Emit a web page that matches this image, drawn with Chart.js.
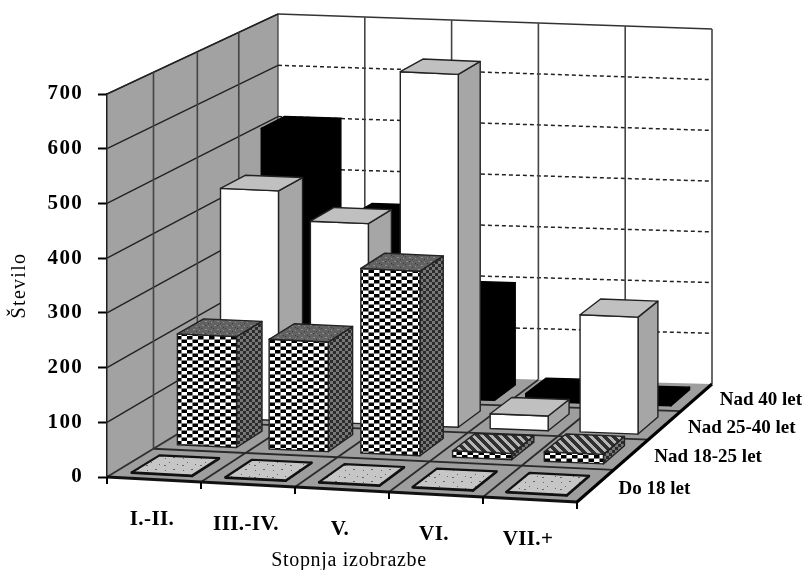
<!DOCTYPE html>
<html>
<head>
<meta charset="utf-8">
<script src="https://cdn.jsdelivr.net/npm/chart.js@4"></script>
<style>
  html, body { margin: 0; padding: 0; background: #fff; }
  canvas { display: block; }
</style>
</head>
<body>
<canvas id="graf" width="802" height="570"></canvas>
<script>
const stopnje = ["I.-II.", "III.-IV.", "V.", "VI.", "VII.+"];
const skupine = ["Do 18 let", "Nad 18-25 let", "Nad 25-40 let", "Nad 40 let"];

const do18 = [1, 1, 1, 1, 1];
const nad18 = [207, 205, 346, 12, 18];
const nad25 = [436, 381, 673, 28, 224];
const nad40 = [510, 346, 200, 15, 5];

const yTicks = [0, 100, 200, 300, 400, 500, 600, 700];

// corners of the 3D box on the page, [x, y] for u (left-right), d (front-back), h (up)
const BOX = {
  b00: [107, 477], b10: [577, 502], b01: [278, 373], b11: [712, 384],
  t00: [107, 94], t10: [577, 123], t01: [278, 14], t11: [712, 29],
};
const GLOBINA = 1.12; // perspective of the depth axis
const SIRINA = 0.645; // bar width in its cell
const DOLZINA = 0.6; // bar depth in its cell

const lerp = (a, b, t) => a + (b - a) * t;

function proj(u, d, h) {
  const dd = (d * GLOBINA) / (1 + d * (GLOBINA - 1));
  const at = (i) => {
    const bot = lerp(lerp(BOX.b00[i], BOX.b10[i], u), lerp(BOX.b01[i], BOX.b11[i], u), dd);
    const top = lerp(lerp(BOX.t00[i], BOX.t10[i], u), lerp(BOX.t01[i], BOX.t11[i], u), dd);
    return lerp(bot, top, h);
  };
  return [at(0), at(1)];
}

function tile(w, h, fn) {
  const c = document.createElement("canvas");
  c.width = w;
  c.height = h;
  fn(c.getContext("2d"));
  return document.getElementById("graf").getContext("2d").createPattern(c, "repeat");
}

function dots(g, color, list) {
  g.fillStyle = color;
  list.forEach((p) => g.fillRect(p[0], p[1], p[2] || 1, p[3] || 1));
}

const sah = tile(11, 7, (g) => {
  g.fillStyle = "#fff";
  g.fillRect(0, 0, 11, 7);
  g.fillStyle = "#000";
  g.fillRect(0, 0, 5.5, 3.5);
  g.fillRect(5.5, 3.5, 5.5, 3.5);
});
const sahStran = tile(6, 6, (g) => {
  g.fillStyle = "#777";
  g.fillRect(0, 0, 6, 6);
  g.fillStyle = "#2c2c2c";
  g.fillRect(0, 0, 3, 3);
  g.fillRect(3, 3, 3, 3);
});
const sahVrh = tile(12, 8, (g) => {
  g.fillStyle = "#626262";
  g.fillRect(0, 0, 12, 8);
  dots(g, "#8e8e8e", [[1, 1, 2, 1], [7, 2], [10, 5, 2, 1], [4, 6]]);
  dots(g, "#3c3c3c", [[4, 3], [9, 0], [1, 5], [7, 7]]);
});
const sahPloska = tile(9, 9, (g) => {
  g.fillStyle = "#303030";
  g.fillRect(0, 0, 9, 9);
  g.fillStyle = "#b5b5b5";
  for (let y = 0; y < 9; y++) {
    g.fillRect(y, y, 4, 1);
    g.fillRect(y - 9, y, 4, 1);
  }
});
const pike = tile(18, 12, (g) => {
  g.fillStyle = "#c6c6c6";
  g.fillRect(0, 0, 18, 12);
  dots(g, "#666", [[3, 2], [11, 1, 2, 1], [7, 6], [15, 8], [2, 9, 2, 1]]);
});

const videz = [
  { spredaj: "#c6c6c6", vrh: pike, stran: "#888", rob: "#111", lw: 2.2 },
  { spredaj: sah, vrh: sahVrh, stran: sahStran, plosko: sahPloska, rob: "#222", lw: 1.4 },
  { spredaj: "#fff", vrh: "#c0c0c0", stran: "#a6a6a6", rob: "#222", lw: 1.4 },
  { spredaj: "#000", vrh: "#000", stran: "#000", rob: "#000", lw: 1.4 },
];

function poly(ctx, pts, fill, stroke, lw) {
  ctx.beginPath();
  pts.forEach((p, i) => (i ? ctx.lineTo(p[0], p[1]) : ctx.moveTo(p[0], p[1])));
  ctx.closePath();
  if (fill) {
    ctx.fillStyle = fill;
    ctx.fill();
  }
  if (stroke) {
    ctx.strokeStyle = stroke;
    ctx.lineWidth = lw || 1;
    ctx.lineJoin = "round";
    ctx.stroke();
  }
}

function line(ctx, a, b, color, lw, dash) {
  ctx.save();
  ctx.beginPath();
  ctx.moveTo(a[0], a[1]);
  ctx.lineTo(b[0], b[1]);
  ctx.strokeStyle = color;
  ctx.lineWidth = lw;
  if (dash) ctx.setLineDash(dash);
  ctx.stroke();
  ctx.restore();
}

function text(ctx, s, x, y, font, align, spacing) {
  ctx.save();
  ctx.font = font;
  ctx.fillStyle = "#000";
  ctx.textAlign = align;
  ctx.textBaseline = "middle";
  ctx.letterSpacing = spacing || "0px";
  ctx.fillText(s, x, y);
  ctx.restore();
}

const box3d = {
  id: "box3d",
  beforeDraw(chart) {
    chart.ctx.letterSpacing = "1.3px"; // the axis text of the original is wide
  },
  beforeDatasetsDraw(chart) {
    const ctx = chart.ctx;
    const vh = (v) => (chart.scales.y.getPixelForValue(0) - chart.scales.y.getPixelForValue(v)) / chart.chartArea.height;

    // back wall
    poly(ctx, [proj(0, 1, 0), proj(1, 1, 0), proj(1, 1, 1), proj(0, 1, 1)], "#fff");
    yTicks.slice(1, -1).forEach((v) => line(ctx, proj(0, 1, vh(v)), proj(1, 1, vh(v)), "#222", 1.5, [4, 3]));
    line(ctx, proj(0, 1, 1), proj(1, 1, 1), "#333", 1.6);
    stopnje.forEach((s, i) => line(ctx, proj((i + 1) / stopnje.length, 1, 0), proj((i + 1) / stopnje.length, 1, 1), "#444", 1.6));

    // side wall
    poly(ctx, [proj(0, 0, 0), proj(0, 1, 0), proj(0, 1, 1), proj(0, 0, 1)], "#a2a2a2", "#333", 1.2);
    yTicks.slice(1).forEach((v) => line(ctx, proj(0, 0, vh(v)), proj(0, 1, vh(v)), "#222", 1.4));
    skupine.slice(1).forEach((s, i) => line(ctx, proj(0, (i + 1) / skupine.length, 0), proj(0, (i + 1) / skupine.length, 1), "#444", 1.6));

    // floor
    poly(ctx, [proj(0, 0, 0), proj(1, 0, 0), proj(1, 1, 0), proj(0, 1, 0)], "#9e9e9e");
    stopnje.slice(1).forEach((s, i) => {
      const u = (i + 1) / stopnje.length;
      line(ctx, proj(u, 0, 0), proj(u, 1, 0), "#2a2a2a", 1.8);
    });
    skupine.slice(1).forEach((s, i) => {
      const d = (i + 1) / skupine.length;
      line(ctx, proj(0, d, 0), proj(1, d, 0), "#2a2a2a", 1.8);
    });
    line(ctx, proj(0, 0, 0), proj(0, 1, 0), "#333", 1.8);
    line(ctx, proj(0, 0, 0), proj(1, 0, 0), "#111", 2.8);
    line(ctx, proj(1, 0, 0), proj(1, 1, 0), "#000", 3);
    stopnje.concat([""]).forEach((s, i) => {
      const p = proj(i / stopnje.length, 0, 0);
      line(ctx, p, [p[0], p[1] + 7], "#000", 2);
    });

    // bars, back row first
    const xs = chart.scales.x;
    const korak = xs.width / stopnje.length;
    for (let r = chart.data.datasets.length - 1; r >= 0; r--) {
      const ds = chart.data.datasets[r];
      const st = videz[r];
      ds.data.forEach((v, i) => {
        const cx = (xs.getPixelForValue(i) - xs.left) / xs.width;
        const hw = (SIRINA * korak) / 2 / xs.width;
        const u0 = cx - hw, u1 = cx + hw;
        const d0 = (r + 0.47 - DOLZINA / 2) / skupine.length;
        const d1 = (r + 0.47 + DOLZINA / 2) / skupine.length;
        const h = vh(v);
        poly(ctx, [proj(u1, d0, 0), proj(u1, d1, 0), proj(u1, d1, h), proj(u1, d0, h)], st.stran, st.rob, st.lw);
        poly(ctx, [proj(u0, d0, 0), proj(u1, d0, 0), proj(u1, d0, h), proj(u0, d0, h)], st.spredaj, st.rob, st.lw);
        const vrh = st.plosko && v < 50 ? st.plosko : st.vrh;
        poly(ctx, [proj(u0, d0, h), proj(u1, d0, h), proj(u1, d1, h), proj(u0, d1, h)], vrh, st.rob, st.lw);
      });
    }
  },
  afterDraw(chart) {
    const ctx = chart.ctx;
    const xs = chart.scales.x;
    stopnje.forEach((s, i) => {
      const p = proj((xs.getPixelForValue(i) - xs.left) / xs.width, 0, 0);
      text(ctx, s, p[0] - 2, p[1] + 40, "bold 21px 'Liberation Serif'", "center", "0.4px");
    });
    skupine.forEach((s, r) => {
      const p = proj(1, (r + 0.5) / skupine.length, 0);
      text(ctx, s, p[0] + 23, p[1] + 3, "bold 19px 'Liberation Serif'", "left");
    });
    text(ctx, "Stopnja izobrazbe", 349, 561, "20px 'Liberation Serif'", "center", "0.7px");
  },
};

new Chart(document.getElementById("graf"), {
  type: "bar",
  data: {
    labels: stopnje,
    datasets: [
      { label: skupine[0], data: do18 },
      { label: skupine[1], data: nad18 },
      { label: skupine[2], data: nad25 },
      { label: skupine[3], data: nad40 },
    ].map((d) => ({ ...d, backgroundColor: "transparent", borderWidth: 0 })),
  },
  options: {
    responsive: false,
    animation: false,
    layout: { padding: { top: 94, right: 225, left: 0, bottom: 0 } },
    plugins: { legend: { display: false }, tooltip: { enabled: false } },
    scales: {
      x: {
        offset: true,
        grid: { display: false },
        border: { display: false },
        ticks: { display: false },
        afterFit: (s) => { s.height = 93; },
      },
      y: {
        min: 0,
        max: 700,
        afterBuildTicks: (s) => { s.ticks = yTicks.map((v) => ({ value: v })); },
        grid: { drawOnChartArea: false, tickLength: 9, tickWidth: 2, tickColor: "#000" },
        border: { color: "#000", width: 2 },
        ticks: {
          color: "#000",
          padding: 15,
          font: { family: "'Liberation Serif'", size: 21, weight: "bold" },
        },
        title: {
          display: true,
          text: "Število",
          color: "#000",
          padding: { top: 8, bottom: 0 },
          font: { family: "'Liberation Serif'", size: 20 },
        },
        afterFit: (s) => { s.width = 107; },
      },
    },
  },
  plugins: [box3d],
});
</script>
</body>
</html>
